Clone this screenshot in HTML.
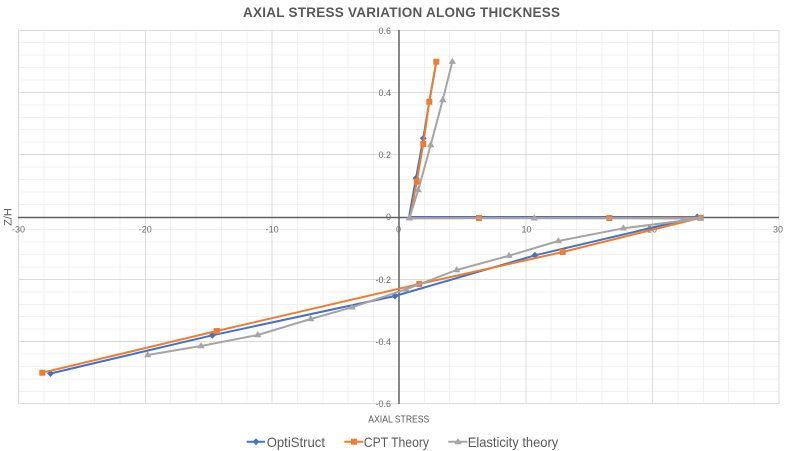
<!DOCTYPE html>
<html>
<head>
<meta charset="utf-8">
<style>
  html,body{margin:0;padding:0;background:#fff;}
  svg{display:block;}
  text{font-family:"Liberation Sans",sans-serif;}
</style>
</head>
<body>
<svg width="791" height="451" viewBox="0 0 791 451" xmlns="http://www.w3.org/2000/svg">
  <rect width="791" height="451" fill="#fff"/>
  <!-- minor grid -->
  <g stroke="#f0f0f0" stroke-width="1" shape-rendering="crispEdges">
    <path d="M18.5,30V404 M43.9,30V404 M69.2,30V404 M94.6,30V404 M119.9,30V404 M170.7,30V404 M196,30V404 M221.4,30V404 M246.8,30V404 M297.5,30V404 M322.9,30V404 M348.2,30V404 M373.6,30V404 M424.4,30V404 M449.7,30V404 M475.1,30V404 M500.4,30V404 M551.2,30V404 M576.5,30V404 M601.9,30V404 M627.3,30V404 M678,30V404 M703.4,30V404 M728.7,30V404 M754.1,30V404"/>
    <path d="M18,42.5H779 M18,54.9H779 M18,67.4H779 M18,79.9H779 M18,104.8H779 M18,117.3H779 M18,129.7H779 M18,142.2H779 M18,167.1H779 M18,179.6H779 M18,192.1H779 M18,204.5H779 M18,229.5H779 M18,241.9H779 M18,254.4H779 M18,266.9H779 M18,291.8H779 M18,304.3H779 M18,316.7H779 M18,329.2H779 M18,354.1H779 M18,366.6H779 M18,379.1H779 M18,391.5H779"/>
  </g>
  <!-- major grid -->
  <g stroke="#dcdcdc" stroke-width="1" shape-rendering="crispEdges">
    <path d="M18.5,30V404 M145.3,30V404 M272.1,30V404 M525.8,30V404 M652.6,30V404 M779,30V404"/>
    <path d="M18,30.5H779 M18,92.3H779 M18,154.7H779 M18,279.3H779 M18,341.7H779 M18,403.5H779"/>
  </g>
  <!-- axes -->
  <g stroke="#606060" stroke-width="1.5">
    <line x1="18" y1="217.5" x2="779" y2="217.5"/>
    <line x1="399" y1="30" x2="399" y2="404"/>
  </g>
  <!-- tick labels -->
  <g font-size="9" fill="#6a6a6a">
    <g text-anchor="end">
      <text x="391" y="34">0.6</text>
      <text x="391" y="96">0.4</text>
      <text x="391" y="158">0.2</text>
      <text x="391" y="220">0</text>
      <text x="391" y="283">-0.2</text>
      <text x="391" y="345">-0.4</text>
      <text x="391" y="407">-0.6</text>
    </g>
    <g text-anchor="middle">
      <text x="18.5" y="232.5">-30</text>
      <text x="145.3" y="232.5">-20</text>
      <text x="272.1" y="232.5">-10</text>
      <text x="398.5" y="232.5">0</text>
      <text x="526.5" y="232.5">10</text>
      <text x="652" y="232.5">20</text>
      <text x="778" y="232.5">30</text>
    </g>
  </g>

  <!-- OptiStruct (blue) -->
  <polyline fill="none" stroke="#4472C4" stroke-width="2" stroke-linejoin="round"
    points="50.5,373.5 212.3,335.3 395,296 535,255.3 697.3,217 609,217 479,217 409,217 416,178.3 423.3,138.3 429.3,101.7 436.3,61.7"/>
  <g fill="#4472C4">
    <path d="M50.5,370 l3.5,3.5 l-3.5,3.5 l-3.5,-3.5z"/>
    <path d="M212.3,331.8 l3.5,3.5 l-3.5,3.5 l-3.5,-3.5z"/>
    <path d="M395,292.5 l3.5,3.5 l-3.5,3.5 l-3.5,-3.5z"/>
    <path d="M535,251.8 l3.5,3.5 l-3.5,3.5 l-3.5,-3.5z"/>
    <path d="M697.3,213.5 l3.5,3.5 l-3.5,3.5 l-3.5,-3.5z"/>
    <path d="M416,174.8 l3.5,3.5 l-3.5,3.5 l-3.5,-3.5z"/>
    <path d="M423.3,134.8 l3.5,3.5 l-3.5,3.5 l-3.5,-3.5z"/>
  </g>

  <!-- CPT Theory (orange) -->
  <polyline fill="none" stroke="#ED7D31" stroke-width="2" stroke-linejoin="round"
    points="42.3,372.7 216.7,331 419.3,284 562.7,252 700.7,217.8 609.3,218 479,218 410,218.3 416.7,181.7 423.3,144 429.3,101.7 436.3,61.7"/>
  <g fill="#ED7D31">
    <rect x="39.3" y="369.7" width="6" height="6"/>
    <rect x="213.7" y="328" width="6" height="6"/>
    <rect x="416.3" y="281" width="6" height="6"/>
    <rect x="559.7" y="249" width="6" height="6"/>
    <rect x="697.7" y="214.8" width="6" height="6"/>
    <rect x="606.3" y="215" width="6" height="6"/>
    <rect x="476" y="215" width="6" height="6"/>
    <rect x="413.7" y="178.7" width="6" height="6"/>
    <rect x="420.3" y="141" width="6" height="6"/>
    <rect x="426.3" y="98.7" width="6" height="6"/>
    <rect x="433.3" y="58.7" width="6" height="6"/>
  </g>

  <!-- Elasticity theory (grey) -->
  <polyline fill="none" stroke="#A5A5A5" stroke-width="2" stroke-linejoin="round"
    points="147.7,355 201,346 257.7,335 310.7,319 352,307.3 406,289.3 456.7,270 509,255.7 558.3,241 623.3,228.3 700.7,218.5 534.3,218.3 409.3,218.3 418.3,190 430.7,145 442.7,100 452.3,61.7"/>
  <g fill="#A5A5A5">
    <path d="M147.7,351 l3.7,6.2 h-7.4z"/>
    <path d="M201,342 l3.7,6.2 h-7.4z"/>
    <path d="M257.7,331 l3.7,6.2 h-7.4z"/>
    <path d="M310.7,315 l3.7,6.2 h-7.4z"/>
    <path d="M352,303.3 l3.7,6.2 h-7.4z"/>
    <path d="M406,285.3 l3.7,6.2 h-7.4z"/>
    <path d="M456.7,266 l3.7,6.2 h-7.4z"/>
    <path d="M509,251.7 l3.7,6.2 h-7.4z"/>
    <path d="M558.3,237 l3.7,6.2 h-7.4z"/>
    <path d="M623.3,224.3 l3.7,6.2 h-7.4z"/>
    <path d="M700.7,214.5 l3.7,6.2 h-7.4z"/>
    <path d="M534.3,214.3 l3.7,6.2 h-7.4z"/>
    <path d="M409.3,214.3 l3.7,6.2 h-7.4z"/>
    <path d="M418.3,186 l3.7,6.2 h-7.4z"/>
    <path d="M430.7,141 l3.7,6.2 h-7.4z"/>
    <path d="M442.7,96 l3.7,6.2 h-7.4z"/>
    <path d="M452.3,57.7 l3.7,6.2 h-7.4z"/>
  </g>

  <!-- Title -->
  <text x="243" y="17" font-size="13.5" font-weight="bold" fill="#595959" textLength="317" lengthAdjust="spacing">AXIAL STRESS VARIATION ALONG THICKNESS</text>
  <!-- Axis titles -->
  <text x="368.3" y="422.5" font-size="10.5" fill="#595959" textLength="61" lengthAdjust="spacingAndGlyphs">AXIAL STRESS</text>
  <text transform="translate(11.5,217) rotate(-90)" text-anchor="middle" font-size="11" fill="#595959">Z/H</text>

  <!-- Legend -->
  <g stroke-width="2">
    <line x1="246.7" y1="441.7" x2="265" y2="441.7" stroke="#4472C4"/>
    <line x1="344.3" y1="441.7" x2="363.3" y2="441.7" stroke="#ED7D31"/>
    <line x1="448.3" y1="441.7" x2="467.3" y2="441.7" stroke="#A5A5A5"/>
  </g>
  <path d="M256,438.2 l3.5,3.5 l-3.5,3.5 l-3.5,-3.5z" fill="#4472C4"/>
  <rect x="351" y="438.7" width="6" height="6" fill="#ED7D31"/>
  <path d="M458,438 l3.7,6.2 h-7.4z" fill="#A5A5A5"/>
  <g font-size="14" fill="#595959">
    <text x="266.7" y="447" textLength="58.3" lengthAdjust="spacingAndGlyphs">OptiStruct</text>
    <text x="363.8" y="447" textLength="65.2" lengthAdjust="spacingAndGlyphs">CPT Theory</text>
    <text x="467.7" y="447" textLength="90.6" lengthAdjust="spacingAndGlyphs">Elasticity theory</text>
  </g>
</svg>
</body>
</html>
